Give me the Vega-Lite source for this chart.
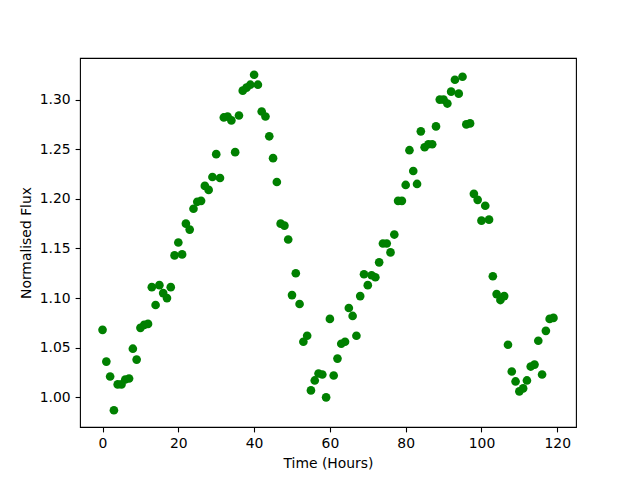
{
  "$schema": "https://vega.github.io/schema/vega-lite/v6.json",
  "width": 496,
  "height": 369,
  "autosize": {"type": "none"},
  "padding": {"left": 80, "top": 58, "right": 64, "bottom": 53},
  "background": "white",
  "config": {
    "view": {"stroke": "black", "strokeWidth": 1.1},
    "axis": {
      "labelFont": "DejaVu Sans", "labelFontSize": 13.9, "labelColor": "black",
      "titleFont": "DejaVu Sans", "titleFontSize": 13.9, "titleFontWeight": "normal", "titleColor": "black",
      "grid": false, "domain": false, "tickColor": "black", "tickWidth": 1.1, "tickSize": 4.9,
      "labelPadding": 4.9, "titlePadding": 5.6
    }
  },
  "data": {"values": [
    {"t":0,"f":1.068},{"t":1,"f":1.036},{"t":2,"f":1.021},{"t":3,"f":0.987},{"t":4,"f":1.013},
    {"t":5,"f":1.013},{"t":6,"f":1.018},{"t":7,"f":1.019},{"t":8,"f":1.049},{"t":9,"f":1.038},
    {"t":10,"f":1.070},{"t":11,"f":1.073},{"t":12,"f":1.074},{"t":13,"f":1.111},{"t":14,"f":1.093},
    {"t":15,"f":1.113},{"t":16,"f":1.105},{"t":17,"f":1.100},{"t":18,"f":1.111},{"t":19,"f":1.143},
    {"t":20,"f":1.156},{"t":21,"f":1.144},{"t":22,"f":1.175},{"t":23,"f":1.169},{"t":24,"f":1.190},
    {"t":25,"f":1.197},{"t":26,"f":1.198},{"t":27,"f":1.213},{"t":28,"f":1.209},{"t":29,"f":1.222},
    {"t":30,"f":1.245},{"t":31,"f":1.221},{"t":32,"f":1.282},{"t":33,"f":1.283},{"t":34,"f":1.279},
    {"t":35,"f":1.247},{"t":36,"f":1.284},{"t":37,"f":1.309},{"t":38,"f":1.312},{"t":39,"f":1.315},
    {"t":40,"f":1.325},{"t":41,"f":1.315},{"t":42,"f":1.288},{"t":43,"f":1.283},{"t":44,"f":1.263},
    {"t":45,"f":1.241},{"t":46,"f":1.217},{"t":47,"f":1.175},{"t":48,"f":1.173},{"t":49,"f":1.159},
    {"t":50,"f":1.103},{"t":51,"f":1.125},{"t":52,"f":1.094},{"t":53,"f":1.056},{"t":54,"f":1.062},
    {"t":55,"f":1.007},{"t":56,"f":1.017},{"t":57,"f":1.024},{"t":58,"f":1.023},{"t":59,"f":1.000},
    {"t":60,"f":1.079},{"t":61,"f":1.022},{"t":62,"f":1.039},{"t":63,"f":1.054},{"t":64,"f":1.056},
    {"t":65,"f":1.090},{"t":66,"f":1.082},{"t":67,"f":1.062},{"t":68,"f":1.102},{"t":69,"f":1.124},
    {"t":70,"f":1.113},{"t":71,"f":1.123},{"t":72,"f":1.121},{"t":73,"f":1.136},{"t":74,"f":1.155},
    {"t":75,"f":1.155},{"t":76,"f":1.146},{"t":77,"f":1.164},{"t":78,"f":1.198},{"t":79,"f":1.198},
    {"t":80,"f":1.214},{"t":81,"f":1.249},{"t":82,"f":1.228},{"t":83,"f":1.215},{"t":84,"f":1.268},
    {"t":85,"f":1.252},{"t":86,"f":1.255},{"t":87,"f":1.255},{"t":88,"f":1.273},{"t":89,"f":1.300},
    {"t":90,"f":1.300},{"t":91,"f":1.296},{"t":92,"f":1.308},{"t":93,"f":1.320},{"t":94,"f":1.306},
    {"t":95,"f":1.323},{"t":96,"f":1.275},{"t":97,"f":1.276},{"t":98,"f":1.205},{"t":99,"f":1.199},
    {"t":100,"f":1.178},{"t":101,"f":1.193},{"t":102,"f":1.179},{"t":103,"f":1.122},{"t":104,"f":1.104},
    {"t":105,"f":1.098},{"t":106,"f":1.102},{"t":107,"f":1.053},{"t":108,"f":1.026},{"t":109,"f":1.016},
    {"t":110,"f":1.006},{"t":111,"f":1.009},{"t":112,"f":1.017},{"t":113,"f":1.031},{"t":114,"f":1.033},
    {"t":115,"f":1.057},{"t":116,"f":1.023},{"t":117,"f":1.067},{"t":118,"f":1.079},{"t":119,"f":1.080}
  ]},
  "mark": {"type": "point", "filled": true, "opacity": 1, "size": 75, "color": "#008000", "shape": "circle"},
  "encoding": {
    "x": {"field": "t", "type": "quantitative", "title": "Time (Hours)",
          "scale": {"domain": [-5.95, 124.95], "nice": false, "zero": false},
          "axis": {"values": [0, 20, 40, 60, 80, 100, 120], "format": "d"}},
    "y": {"field": "f", "type": "quantitative", "title": "Normalised Flux",
          "scale": {"domain": [0.9701, 1.3419], "nice": false, "zero": false},
          "axis": {"values": [1.0, 1.05, 1.1, 1.15, 1.2, 1.25, 1.3], "format": ".2f"}}
  }
}
